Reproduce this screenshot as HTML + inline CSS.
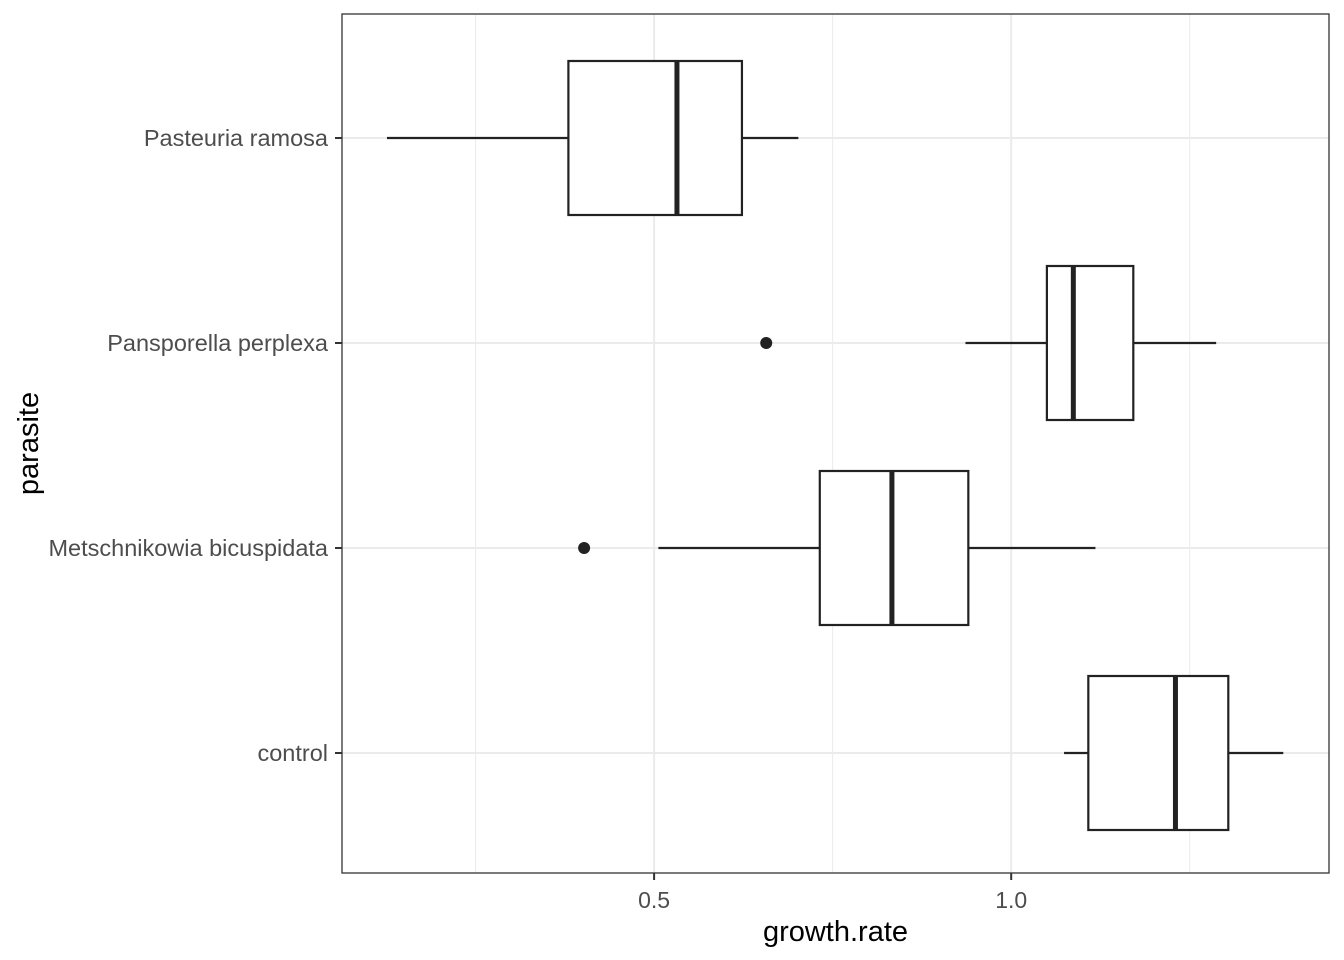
<!DOCTYPE html>
<html><head><meta charset="utf-8"><style>
body{margin:0;background:#fff}
svg{display:block;font-family:"Liberation Sans",Arial,sans-serif}
</style></head><body>
<svg id="chart" width="1344" height="960"></svg>
<script>
const categories=["control","Metschnikowia bicuspidata","Pansporella perplexa","Pasteuria ramosa"];
const whiskerLow=[1.074,0.506,0.936,0.126];
const q1=[1.108,0.732,1.050,0.380];
const medians=[1.230,0.833,1.087,0.532];
const q3=[1.304,0.940,1.171,0.623];
const whiskerHigh=[1.381,1.118,1.287,0.702];
const outliers=[[],[0.402],[0.657],[]];
const majorTicks=[0.5,1.0];
const majorTickLabels=["0.5","1.0"];
const minorTicks=[0.25,0.75,1.25];

const L=342,R=1329,T=14,B=873;
const xMin=0.063,xMax=1.445;
const xs=v=>L+(v-xMin)/(xMax-xMin)*(R-L);
const unit=205;
const ys=i=>753-unit*i;
const svg=document.getElementById('chart');
const NS='http://www.w3.org/2000/svg';
function mk(tag,attrs,parent){const e=document.createElementNS(NS,tag);for(const k in attrs)e.setAttribute(k,attrs[k]);(parent||svg).appendChild(e);return e;}

mk('rect',{x:L,y:T,width:R-L,height:B-T,fill:'#fff'});
minorTicks.forEach(v=>{const l=mk('line',{x1:xs(v),x2:xs(v),y1:T,y2:B,stroke:'#ebebeb','stroke-width':1});

});
majorTicks.forEach(v=>{const l=mk('line',{x1:xs(v),x2:xs(v),y1:T,y2:B,stroke:'#ebebeb','stroke-width':2});

});
categories.forEach((c,i)=>{const l=mk('line',{x1:L,x2:R,y1:ys(i),y2:ys(i),stroke:'#ebebeb','stroke-width':2});

});

const bh=77;
categories.forEach((c,i)=>{
  const y=ys(i);
  const g=mk('g',{});
  
  
  mk('line',{x1:xs(whiskerLow[i]),x2:xs(q1[i]),y1:y,y2:y,stroke:'#222','stroke-width':2.2},g);
  mk('line',{x1:xs(q3[i]),x2:xs(whiskerHigh[i]),y1:y,y2:y,stroke:'#222','stroke-width':2.2},g);
  mk('rect',{x:xs(q1[i]),y:y-bh,width:xs(q3[i])-xs(q1[i]),height:2*bh,fill:'#fff',stroke:'#222','stroke-width':2.2},g);
  mk('line',{x1:xs(medians[i]),x2:xs(medians[i]),y1:y-bh,y2:y+bh,stroke:'#222','stroke-width':5},g);
  outliers[i].forEach(v=>{const p=mk('circle',{cx:xs(v),cy:y,r:6,fill:'#222'},g);
    
    });
  const t=mk('text',{x:L-14,y:y+8,'text-anchor':'end','font-size':23.5,fill:'#4d4d4d'});
  t.textContent=c;
  
  
  mk('line',{x1:L-7,x2:L,y1:y,y2:y,stroke:'#333','stroke-width':2});
});
mk('rect',{x:L,y:T,width:R-L,height:B-T,fill:'none',stroke:'#333','stroke-width':1.3});
majorTicks.forEach((v,i)=>{
  mk('line',{x1:xs(v),x2:xs(v),y1:B,y2:B+7,stroke:'#333','stroke-width':2});
  const t=mk('text',{x:xs(v),y:B+35,'text-anchor':'middle','font-size':23,fill:'#4d4d4d'});
  t.textContent=majorTickLabels[i];
  
  
});
const xt=mk('text',{x:(L+R)/2,y:941,'text-anchor':'middle','font-size':29,fill:'#000'});
xt.textContent='growth.rate';


const yt=mk('text',{x:0,y:0,'text-anchor':'middle','font-size':29,fill:'#000',transform:'translate(38,'+((T+B)/2)+') rotate(-90)'});
yt.textContent='parasite';


</script>
</body></html>
